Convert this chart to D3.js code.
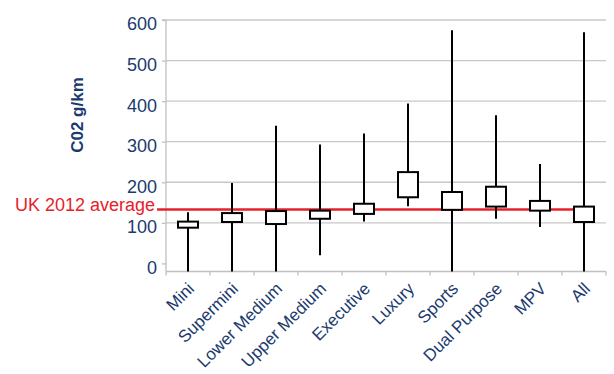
<!DOCTYPE html>
<html><head><meta charset="utf-8">
<script src="https://cdn.jsdelivr.net/npm/d3@7"></script>
<style>body{margin:0;background:#fff}svg{display:block}</style>
</head><body>
<svg id="c" width="614" height="374"></svg>
<script>
const categories = ["Mini","Supermini","Lower Medium","Upper Medium","Executive","Luxury","Sports","Dual Purpose","MPV","All"];
const lows   = [0,   0,   0,   20,  103, 141, 0,   110, 90,  0];
const q1     = [88,  102, 97,  110, 122, 163, 132, 140, 130, 102];
const q3     = [103, 124, 129, 130, 147, 225, 176, 189, 154, 140];
const highs  = [126, 198, 339, 293, 320, 394, 575, 365, 245, 570];
const yTicks = [0,100,200,300,400,500,600];
const ukAverage = 133;
const ukLabel = "UK 2012 average";
const yTitle = "C02 g/km";

const navy = "#1b3a6e";
const svg = d3.select("#c");
const font = "'Liberation Sans', Arial, sans-serif";
const x = d3.scaleBand().domain(categories).range([166, 606]).padding(0);
const y = d3.scaleLinear().domain([-20, 600]).range([271.5, 20]);
const base = y.range()[0];

// gridlines
svg.append("g").selectAll("line").data(yTicks.filter(t=>t>0)).join("line")
  .attr("x1", 166).attr("x2", 606).attr("y1", d=>y(d)).attr("y2", d=>y(d))
  .attr("stroke", "#c8c8c8").attr("stroke-width", 1.3);

// y axis
const ya = svg.append("g").attr("transform","translate(166,0)")
  .call(d3.axisLeft(y).tickValues(yTicks).tickSize(4).tickPadding(5));
ya.select(".domain").attr("stroke","#c0c0c0").attr("stroke-width",1.3).attr("d",`M-4,${y(600)}H0V${base}`);
ya.selectAll(".tick line").attr("stroke","#c0c0c0").attr("stroke-width",1.3);
ya.selectAll(".tick text").attr("fill",navy).style("font-family",font).style("font-size","18px").attr("dy","0.55em");

// x axis
svg.append("line").attr("x1",166).attr("x2",606).attr("y1",base).attr("y2",base)
  .attr("stroke","#c0c0c0").attr("stroke-width",1.3);
const bounds = categories.map(c=>x(c)).concat([x.range()[1]]);
svg.append("g").selectAll("line").data(bounds).join("line")
  .attr("x1",d=>d).attr("x2",d=>d).attr("y1",base).attr("y2",base+4)
  .attr("stroke","#c0c0c0").attr("stroke-width",1.3);
svg.append("g").selectAll("text").data(categories).join("text")
  .attr("transform", d=>`translate(${x(d)+x.bandwidth()/2+3},${base+14}) rotate(-45)`)
  .attr("text-anchor","end").attr("dy","0.35em")
  .attr("fill",navy).style("font-family",font).style("font-size","17px")
  .text(d=>d);

// y title
svg.append("text").attr("transform","translate(77,115) rotate(-90)")
  .attr("text-anchor","middle").attr("dy","0.35em")
  .attr("fill",navy).style("font-family",font).style("font-size","17px").style("font-weight","bold")
  .text(yTitle);

// average line
const cx = c => x(c) + x.bandwidth()/2;
svg.append("line").attr("x1",157).attr("x2",cx(categories[categories.length-1]))
  .attr("y1",y(ukAverage)).attr("y2",y(ukAverage))
  .attr("stroke","#e8202a").attr("stroke-width",2.5);
svg.append("text").attr("x",155).attr("y",y(ukAverage)+2).attr("text-anchor","end")
  .attr("fill","#e8202a").style("font-family",font).style("font-size","18px")
  .text(ukLabel);

// boxes
const g = svg.append("g");
categories.forEach((c,i)=>{
  g.append("line").attr("x1",cx(c)).attr("x2",cx(c))
    .attr("y1", y(highs[i])).attr("y2", lows[i] <= 0 ? base : y(lows[i]))
    .attr("stroke","#000").attr("stroke-width",2);
  g.append("rect").attr("x",cx(c)-10).attr("width",20)
    .attr("y",y(q3[i])).attr("height",y(q1[i])-y(q3[i]))
    .attr("fill","#fff").attr("stroke","#000").attr("stroke-width",2);
});
</script>
</body></html>
